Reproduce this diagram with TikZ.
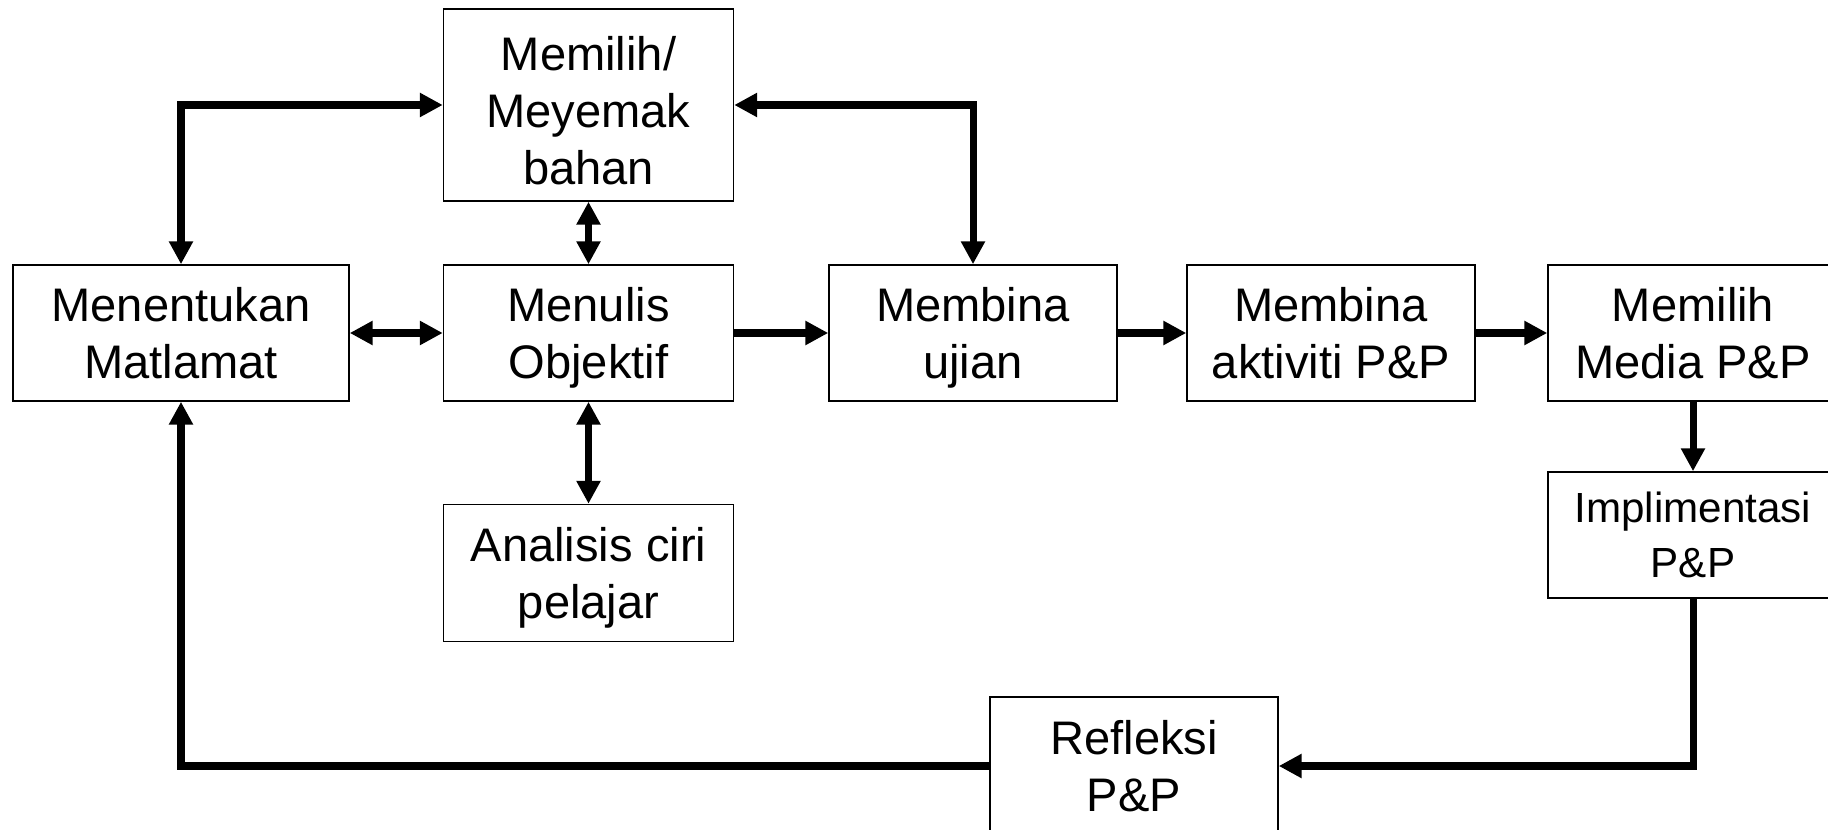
\documentclass[tikz,border=0pt]{standalone}
\usepackage{fontspec}
\setmainfont{Liberation Sans}
\usepackage{tikz}
\usetikzlibrary{arrows.meta}
\tikzset{
  box/.style={draw=black,line width=0.9pt,inner sep=0pt,align=center,
    minimum width=5.8cm,minimum height=2.72cm,
    font=\fontsize{26.8}{32.3}\selectfont},                     % step box
  link/.style={-{Triangle[length=13pt,width=13pt]},line width=4pt},  % one way
  both/.style={{Triangle[length=13pt,width=13pt]}-{Triangle[length=13pt,width=13pt]},line width=4pt},
}

\begin{document}
\begin{tikzpicture}[x=0.02cm,y=-0.02cm]
  \useasboundingbox (0,0) rectangle (1828,830);
  \node[box,minimum width=6.72cm] (mat) at (181,333) {Menentukan\\Matlamat};
  \node[box,minimum height=3.84cm] (bahan) at (588.5,105) {\rule{0pt}{25.6pt}Memilih/\\Meyemak\\bahan};
  \node[box] (obj) at (588.5,333) {Menulis\\\smash{Objektif}};
  \node[box,minimum width=5.76cm] (ujian) at (973,333) {Membina\\\smash{ujian}};
  \node[box,minimum width=5.76cm] (aktiviti) at (1331,333) {Membina\\aktiviti P\&P};
  \node[box] (media) at (1693,333) {Memilih\\Media P\&P};
  \node[box,minimum height=2.52cm,font=\fontsize{24}{31.5}\selectfont] (impl) at (1693,535) {Implimentasi\\P\&P};
  \node[box,minimum height=2.74cm] (pelajar) at (588.5,573) {Analisis ciri\\\smash{pelajar}};
  \node[box,minimum width=5.76cm,minimum height=2.76cm] (refleksi) at (1134,766) {Refleksi\\P\&P};

  \draw[both] (bahan.west) -| (mat.north);
  \draw[both] (bahan.east) -| (ujian.north);
  \draw[both] (bahan.south) -- (obj.north);
  \draw[both] (mat.east) -- (obj.west);
  \draw[both] (obj.south) -- (pelajar.north);
  \draw[link] (obj.east) -- (ujian.west);
  \draw[link] (ujian.east) -- (aktiviti.west);
  \draw[link] (aktiviti.east) -- (media.west);
  \draw[link] (media.south) -- (impl.north);
  \draw[link] (impl.south) |- (refleksi.east);
  \draw[link] (refleksi.west) -| (mat.south);
\end{tikzpicture}
\end{document}
